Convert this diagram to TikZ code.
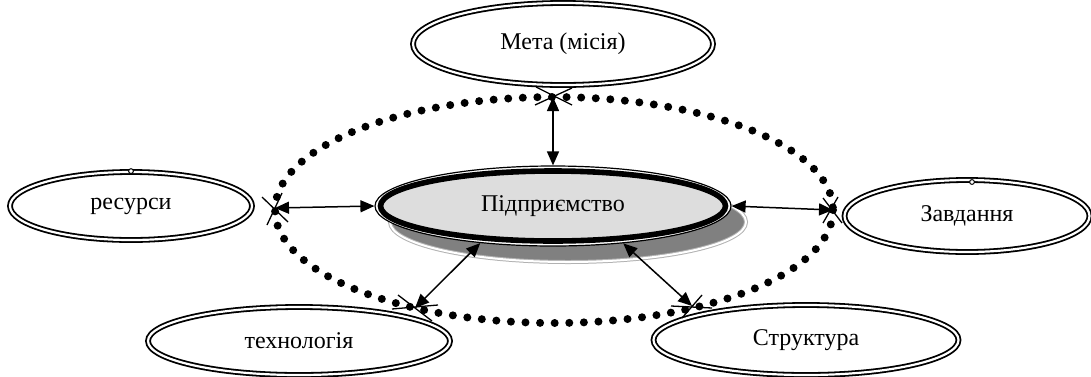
\documentclass[tikz,border=0pt]{standalone}
\usepackage{fontspec}
\setmainfont{Liberation Serif}
\usetikzlibrary{shapes.geometric, arrows.meta, shadows}

\tikzset{
	oval/.style={ellipse, draw, double, double distance=1.1pt, line width=0.9pt, inner sep=0pt, font=\fontsize{12pt}{14pt}\selectfont},
	zv/.style={{Triangle[length=7pt,width=6pt]}-{Triangle[length=7pt,width=6pt]}, line width=0.75pt},
	hnd/.style={line width=0.65pt}
}

\begin{document}
\begin{tikzpicture}[x=0.5pt, y=-0.5pt]
		\useasboundingbox (0,0) rectangle (1091,376);
		% tečkovana elipsa
		\draw[line width=4pt, dash pattern=on 0pt off 7.3pt, line cap=round] (554,210) ellipse [x radius=279, y radius=113];
		\coordinate (mtop) at (553,97);
		\coordinate (mlev) at (275,208);
		\coordinate (mprav) at (833,210);
		\coordinate (mdl) at (415,308);
		\coordinate (mdp) at (692,306);
		\node[ellipse, draw, fill=white, line width=0.6pt, inner sep=0pt, minimum width=178pt, minimum height=40pt,
			font=\fontsize{12pt}{14pt}\selectfont,
			drop shadow={shadow xshift=7.5pt, shadow yshift=-8pt, opacity=1, fill=gray, draw=gray!60, double=white, double distance=1pt, line width=0.5pt},
			path picture={\draw[line width=2.8pt, fill=gray!27] (path picture bounding box.center) ellipse [x radius=172.5, y radius=35];}]
			(pidpr) at (553,206) {Підприємство};
		\node[oval, minimum width=150pt, minimum height=41pt] (meta) at (563,44) {Мета (місія)};
		\node[oval, minimum width=121pt, minimum height=34pt] (resursy) at (131,206) {ресурси};
		\node[oval, minimum width=122.5pt, minimum height=36pt] (zavd) at (967,216) {Завдання};
		\node[oval, minimum width=151pt, minimum height=34pt] (techn) at (299,341) {технологія};
		\node[oval, minimum width=152.5pt, minimum height=35pt] (strukt) at (806,340) {Структура};
		\draw[line width=0.5pt, fill=white] (resursy.north) circle [radius=2.4];
		\draw[line width=0.5pt, fill=white] (972,182) circle [radius=2.4];
		% spojnice
		\draw[zv] (mtop) -- (pidpr.north);
		\draw[zv] (mlev) -- (pidpr.west);
		\draw[zv] (pidpr.east) -- (mprav);
		\draw[zv] (pidpr.-153) -- (mdl);
		\draw[zv] (pidpr.-28) -- (mdp);
		% krizky
		\draw[hnd] ([shift={(-17,-10)}]mtop) -- ([shift={(19,8)}]mtop);
		\draw[hnd] ([shift={(19,-9)}]mtop) -- ([shift={(-18,8)}]mtop);
		\draw[hnd] ([shift={(-13,-11)}]mlev) -- ([shift={(13,14)}]mlev);
		\draw[hnd] ([shift={(7,-15)}]mlev) -- ([shift={(-8,17)}]mlev);
		\draw[hnd] ([shift={(-10,-12)}]mprav) -- ([shift={(9,13)}]mprav);
		\draw[hnd] ([shift={(5,-13)}]mprav) -- ([shift={(-10,13)}]mprav);
		\draw[hnd] ([shift={(-23,1)}]mdl) -- ([shift={(23,-3)}]mdl);
		\draw[hnd] ([shift={(-17,-13)}]mdl) -- ([shift={(17,13)}]mdl);
		\draw[hnd] ([shift={(-21,0)}]mdp) -- ([shift={(20,2)}]mdp);
		\draw[hnd] ([shift={(10,-11)}]mdp) -- ([shift={(-10,12)}]mdp);
	\end{tikzpicture}
\end{document}
